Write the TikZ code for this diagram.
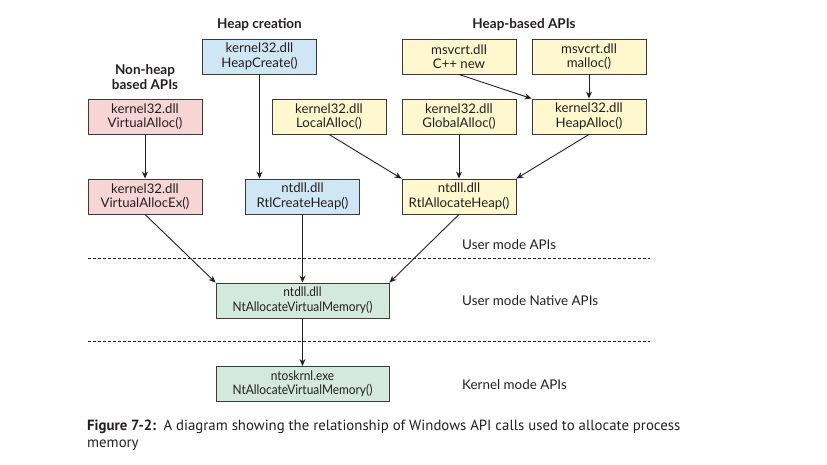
\documentclass[tikz,border=0pt]{standalone}
\usepackage{fontspec}
\setmainfont{Lato}
\newfontfamily\condfont[FakeStretch=0.9]{Lato}
\newfontfamily\capfont{PT Sans}
\usetikzlibrary{arrows.meta}
\definecolor{txt}{HTML}{231F20}
\definecolor{pinkf}{HTML}{F8D5D5}
\definecolor{bluef}{HTML}{CFE6F5}
\definecolor{yellf}{HTML}{FFF7CD}
\definecolor{greenf}{HTML}{D4E9DD}
\definecolor{edge}{HTML}{3A3A3A}
\tikzset{
  box/.style={draw=edge, line width=0.9pt, rectangle, minimum height=35pt, minimum width=114pt,
    inner sep=0pt, align=center, text=txt, font=\fontsize{13.2}{14.5}\selectfont},
  pinkbox/.style={box, fill=pinkf},
  bluebox/.style={box, fill=bluef},
  yellbox/.style={box, fill=yellf},
  greenbox/.style={box, fill=greenf, minimum width=173pt, font=\condfont\fontsize{13.2}{14.5}\selectfont},
  head/.style={font=\bfseries\fontsize{13.5}{15}\selectfont, text=txt, align=center, inner sep=0pt},
  lbl/.style={font=\fontsize{13.4}{15}\selectfont, text=txt, anchor=west, inner sep=0pt},
  arr/.style={draw=txt, line width=0.9pt, -{Stealth[length=7pt,width=6pt]}},
  sep/.style={draw=txt, line width=0.8pt, dash pattern=on 3pt off 2pt},
}
\begin{document}
\begin{tikzpicture}[x=1pt,y=-1pt]
\useasboundingbox (0,0) rectangle (827,465);
% headings
\node[head] (hcre) at (259.5,25) {Heap creation};
\node[head] (hnon) at (145,77) {Non-heap\\based APIs};
\node[head] (hbas) at (524,25) {Heap-based APIs};
% boxes
\node[bluebox] (heapcreate) at (259.5,56.5) {kernel32.dll\\HeapCreate()};
\node[yellbox] (cppnew) at (459,56.5) {msvcrt.dll\\C++ new};
\node[yellbox] (malloc) at (589,56.5) {msvcrt.dll\\malloc()};
\node[pinkbox] (valloc) at (145,116.5) {kernel32.dll\\VirtualAlloc()};
\node[yellbox] (local) at (329,116.5) {kernel32.dll\\LocalAlloc()};
\node[yellbox] (global) at (459,116.5) {kernel32.dll\\GlobalAlloc()};
\node[yellbox] (heapalloc) at (589,116.5) {kernel32.dll\\HeapAlloc()};
\node[pinkbox] (vallocex) at (145,196.5) {kernel32.dll\\VirtualAllocEx()};
\node[bluebox] (rtlcreate) at (302.5,196.5) {ntdll.dll\\RtlCreateHeap()};
\node[yellbox] (rtlalloc) at (459,196.5) {ntdll.dll\\RtlAllocateHeap()};
\node[greenbox] (ntalloc) at (302.5,300.5) {ntdll.dll\\NtAllocateVirtualMemory()};
\node[greenbox] (ntos) at (302.5,384) {ntoskrnl.exe\\NtAllocateVirtualMemory()};
% separators
\coordinate (s1a) at (88,258.5); \coordinate (s1b) at (650,258.5);
\coordinate (s2a) at (88,341.5); \coordinate (s2b) at (650,341.5);
\draw[sep] (s1a) -- (s1b);
\draw[sep] (s2a) -- (s2b);
% labels
\node[lbl] (l1) at (462,245) {User mode APIs};
\node[lbl] (l2) at (462,301) {User mode Native APIs};
\node[lbl] (l3) at (462,385) {Kernel mode APIs};
% arrows
\draw[arr] (valloc.south) -- (vallocex.north);
\draw[arr] (heapcreate.south) -- (heapcreate.south |- rtlcreate.north);
\draw[arr] (cppnew.south) -- (heapalloc.north west);
\draw[arr] (malloc.south) -- (heapalloc.north);
\draw[arr] (local.south) -- (rtlalloc.north west);
\draw[arr] (global.south) -- (rtlalloc.north);
\draw[arr] (heapalloc.south) -- (rtlalloc.north east);
\draw[arr] (vallocex.south) -- (ntalloc.north west);
\draw[arr] (rtlcreate.south) -- (ntalloc.north);
\draw[arr] (rtlalloc.south) -- (ntalloc.north east);
\draw[arr] (ntalloc.south) -- (ntos.north);
% caption
\node[anchor=west, inner sep=0pt, text=txt, font=\capfont\fontsize{14.8}{18}\selectfont] (cap1) at (87,427)
  {\textbf{Figure 7-2:}\hspace{0.5em}A diagram showing the relationship of Windows API calls used to allocate process};
\node[anchor=west, inner sep=0pt, text=txt, font=\capfont\fontsize{14.8}{18}\selectfont] (cap2) at (87,445) {memory};
\end{tikzpicture}
\end{document}
